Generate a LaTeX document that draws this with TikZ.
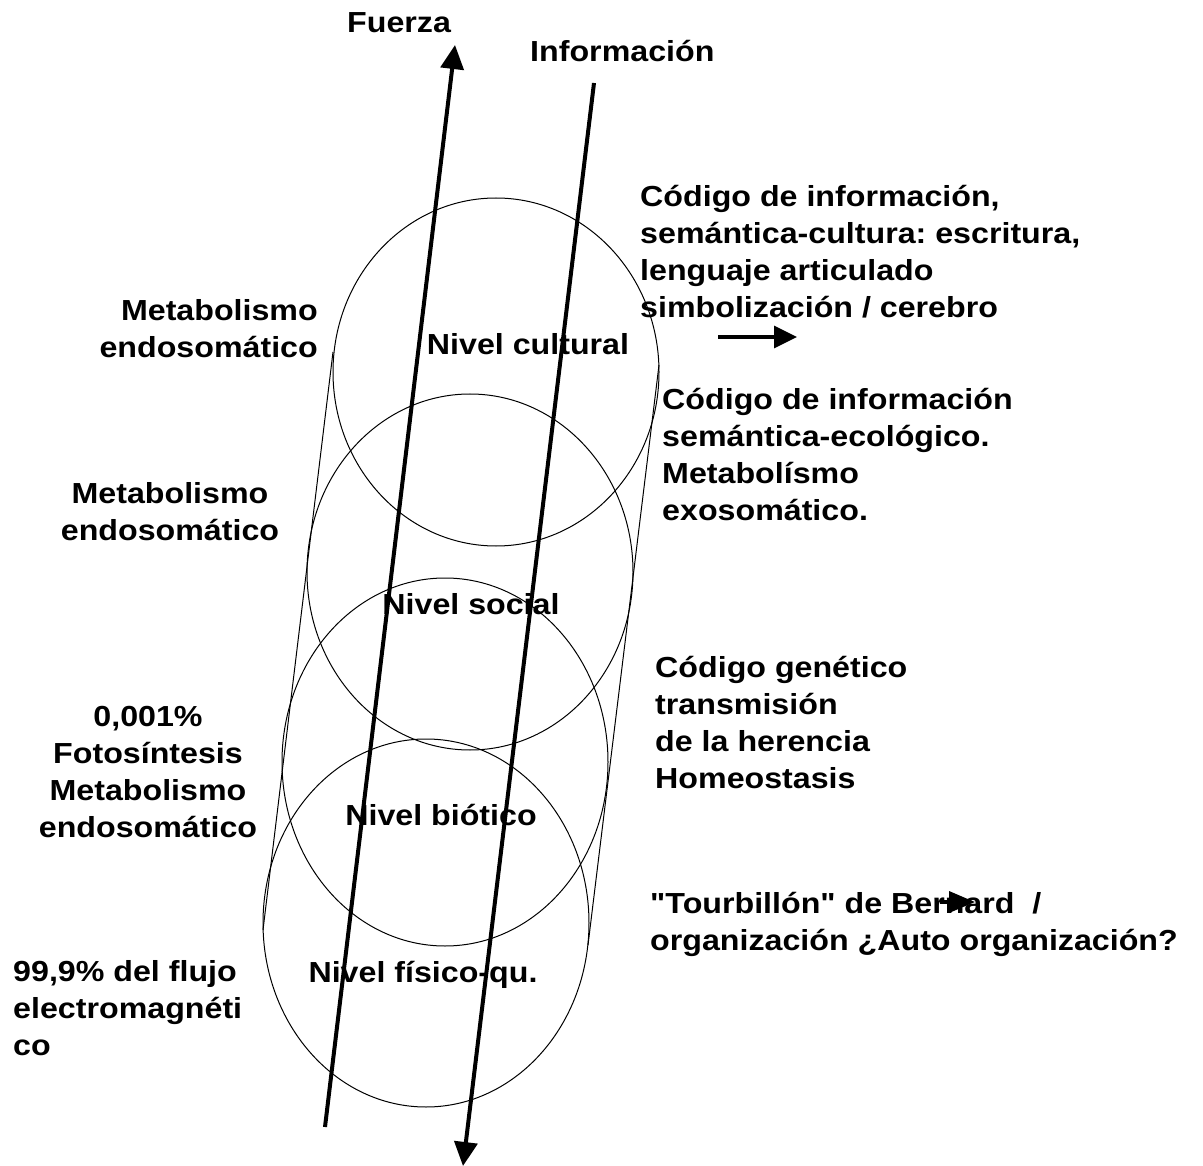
\documentclass[tikz,border=0pt]{standalone}
\usepackage{fontspec}
\setmainfont{Liberation Sans}[Ligatures=TeXOff]
\usetikzlibrary{arrows.meta}
\frenchspacing

\tikzset{
	texto/.style={font=\bfseries\fontsize{29}{37}\selectfont, xscale=1.11, inner sep=0pt},
	nivel/.style={draw, line width=1pt},
	eje/.style={line width=4pt, -{Triangle[length=24pt, width=23pt]}},
	flechita/.style={line width=3.5pt, -{Triangle[length=23pt, width=22pt]}}
}

\begin{document}
\begin{tikzpicture}[x=1pt, y=-1pt]
		\useasboundingbox (0,0) rectangle (1203,1166);
		
		% Niveles (elipses)
		\draw[nivel] (496,372) ellipse [x radius=163, y radius=174];
		\draw[nivel] (470,572) ellipse [x radius=163, y radius=178];
		\draw[nivel] (445,762) ellipse [x radius=163, y radius=184];
		\draw[nivel] (426,923) ellipse [x radius=163, y radius=184];
		
		% Tangentes
		\coordinate (izqArriba) at (333,352);
		\coordinate (izqAbajo) at (263,930);
		\coordinate (derArriba) at (659,365);
		\coordinate (derAbajo) at (588,945);
		\draw[line width=1pt] (izqArriba) -- (izqAbajo);
		\draw[line width=1pt] (derArriba) -- (derAbajo);
		
		% Textos de los niveles
		\node[texto, anchor=base] (cultural) at (528,355) {Nivel cultural};
		\node[texto, anchor=base] (social) at (471,614) {Nivel social};
		\node[texto, anchor=base] (biotico) at (441,825) {Nivel biótico};
		\node[texto, anchor=base] (fisico) at (423,982) {Nivel físico-qu.};
		
		% Textos de la izquierda (base = ultima linea)
		\node[texto, anchor=base east, align=right] (endoA) at (318,358) {Metabolismo\\endosomático};
		\node[texto, anchor=base, align=center] (endoB) at (170,540) {Metabolismo\\endosomático};
		\node[texto, anchor=base, align=center] (foto) at (148,837) {0,001\%\\Fotosíntesis\\Metabolismo\\endosomático};
		\node[texto, anchor=base west, align=left] (flujo) at (13,1055) {99,9\% del flujo\\electromagnéti\\co};
		
		% Textos de la derecha
		\node[texto, anchor=base west, align=left] (codCultura) at (640,318) {Código de información,\\semántica-cultura: escritura,\\lenguaje articulado\\simbolización / cerebro};
		\node[texto, anchor=base west, align=left] (codEco) at (662,520) {Código de información\\semántica-ecológico.\\Metabolísmo\\exosomático.};
		\node[texto, anchor=base west, align=left] (codGen) at (655,788) {Código genético\\transmisión\\de la herencia\\Homeostasis};
		\node[texto, anchor=base west, align=left] (bernard) at (650,950) {"Tourbillón" de Bernard\ \ /\\organización ¿Auto organización?};
		
		% Ejes: Fuerza e Informacion
		\node[texto, anchor=base west] (fuerza) at (347,33) {Fuerza};
		\node[texto, anchor=base west] (info) at (530,62) {Información};
		\coordinate (fuerzaIni) at (325,1127);
		\coordinate (fuerzaFin) at (455,45);
		\coordinate (infoIni) at (594,83);
		\coordinate (infoFin) at (463,1166);
		\draw[eje] (fuerzaIni) -- (fuerzaFin);
		\draw[eje] (infoIni) -- (infoFin);
		
		% Flechas chicas
		\coordinate (cerebroIni) at (718,337);
		\coordinate (cerebroFin) at (797,337);
		\draw[flechita] (cerebroIni) -- (cerebroFin);
		\coordinate (bernardIni) at (940,902);
		\coordinate (bernardFin) at (975,902);
		\draw[line width=3.5pt, -{Triangle[length=26pt, width=21pt]}] (bernardIni) -- (bernardFin);
	\end{tikzpicture}
\end{document}
